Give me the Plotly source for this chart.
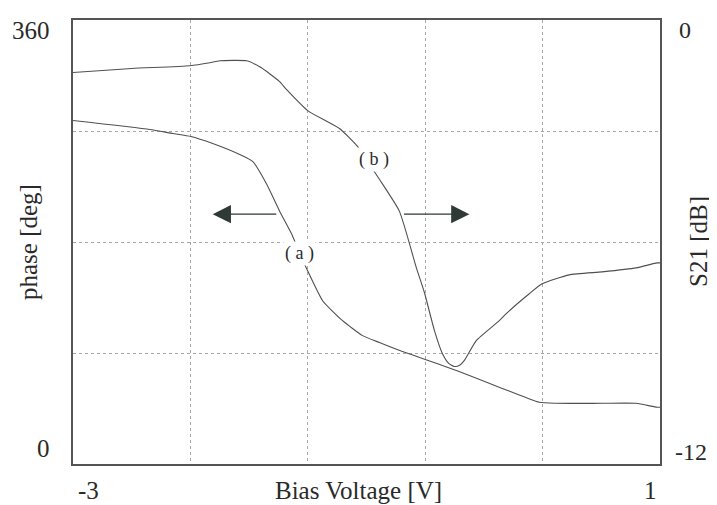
import plotly.graph_objects as go

# ---- data ----
bias_a = [-3.0, -2.476, -2.32, -2.197, -2.048, -1.864, -1.776, -1.68, -1.592, -1.51,
          -1.456, -1.401, -1.299, -1.163, -1.027, -0.912, -0.76, -0.6, -0.45, -0.299,
          -0.075, 0.177, 0.293, 0.605, 0.837, 0.98, 1.0]
phase_a = [278.5, 271.2, 268.0, 265.6, 259.9, 251.0, 245.4, 226.8, 205.0, 186.5,
           171.1, 156.6, 132.4, 116.2, 104.1, 98.5, 91.5, 84.8, 78.5, 71.8,
           61.3, 50.0, 49.2, 49.2, 49.2, 46.0, 46.0]

bias_b = [-3.0, -2.599, -2.204, -2.068, -2.0, -1.816, -1.728, -1.66, -1.592, -1.544,
          -1.401, -1.184, -1.061, -0.993, -0.912, -0.776, -0.66, -0.605, -0.537, -0.483,
          -0.44, -0.401, -0.365, -0.333, -0.252, -0.095, -0.048, 0.109, 0.197, 0.381,
          0.605, 0.837, 0.98, 1.0]
s21_b = [-1.418, -1.310, -1.238, -1.157, -1.103, -1.103, -1.265, -1.453, -1.668, -1.883,
         -2.448, -2.933, -3.417, -3.82, -4.305, -5.166, -6.70, -7.372, -8.395, -9.013,
         -9.28, -9.363, -9.33, -9.20, -8.664, -8.126, -7.937, -7.399, -7.130, -6.888,
         -6.807, -6.700, -6.565, -6.565]

x_grid = [-2.2, -1.4, -0.6, 0.2]
phase_grid = [90, 180, 270]
x_tick_vals = [-3, 1]
x_tick_text = ["-3", "1"]
left_tick_vals = [0, 360]
left_tick_text = ["0", "360"]
right_tick_vals = [-12, 0]
right_tick_text = ["-12", "0"]

FONT = "Liberation Serif, Times New Roman, serif"
LINE = "#505050"
TXT = "#2a2a2a"

fig = go.Figure()
fig.add_trace(go.Scatter(x=bias_a, y=phase_a, mode="lines",
                         line=dict(color=LINE, width=1.1, shape="spline", smoothing=0.5),
                         showlegend=False))
fig.add_trace(go.Scatter(x=bias_b, y=s21_b, mode="lines", yaxis="y2",
                         line=dict(color=LINE, width=1.1, shape="spline", smoothing=0.5),
                         showlegend=False))

# the page body adds an 8px offset, so the figure is sized to fit the window
fig.update_layout(
    width=709, height=497,
    margin=dict(l=65, r=57, t=10, b=41),
    paper_bgcolor="white", plot_bgcolor="white",
    font=dict(family=FONT, color=TXT, size=25),
    xaxis=dict(range=[-3, 1], tickvals=x_grid, showticklabels=False, ticks="",
               showgrid=True, gridcolor="#a8a8a8", griddash="dot", gridwidth=1,
               showline=True, linecolor="#555", linewidth=1.5, mirror=True,
               zeroline=False),
    yaxis=dict(range=[0, 360], tickvals=phase_grid, showticklabels=False, ticks="",
               showgrid=True, gridcolor="#a8a8a8", griddash="dot", gridwidth=1,
               showline=True, linecolor="#555", linewidth=1.5, mirror=True,
               zeroline=False),
    yaxis2=dict(range=[-12, 0], overlaying="y", side="right", showgrid=False,
                showticklabels=False, ticks="", zeroline=False,
                showline=False),
)

ann = []
# left tick labels (inset like the original)
for v, t in zip(left_tick_vals, left_tick_text):
    ann.append(dict(x=0, xref="paper", y=v, yref="y", text=t, showarrow=False,
                    xanchor="right", xshift=-21, yshift=(-10 if v == 360 else 16),
                    font=dict(size=25)))
for v, t in zip(right_tick_vals, right_tick_text):
    ann.append(dict(x=1, xref="paper", y=v, yref="y2", text=t, showarrow=False,
                    xanchor="left", xshift=(17 if v == 0 else 13),
                    yshift=(-10 if v == 0 else 12),
                    font=dict(size=24)))
for v, t in zip(x_tick_vals, x_tick_text):
    ann.append(dict(x=v, xref="x", y=0, yref="paper", text=t, showarrow=False,
                    yanchor="middle", yshift=-26, xshift=(15 if v == -3 else -10),
                    font=dict(size=25)))
# axis titles
ann.append(dict(x=0.5, xref="paper", y=0, yref="paper", text="Bias Voltage [V]",
                showarrow=False, yanchor="middle", yshift=-26, xshift=-8,
                font=dict(size=25)))
ann.append(dict(x=0, xref="paper", y=0.5, yref="paper", text="phase [deg]",
                showarrow=False, textangle=-90, xanchor="center", xshift=-45,
                font=dict(size=25)))
ann.append(dict(x=1, xref="paper", y=0.5, yref="paper", text="S21 [dB]",
                showarrow=False, textangle=-90, xanchor="center", xshift=38,
                font=dict(size=25)))
# curve labels
ann.append(dict(x=-1.456, y=171, xref="x", yref="y", text="( a )", showarrow=False,
                bgcolor="white", font=dict(size=18), borderpad=1))
ann.append(dict(x=-0.946, y=247, xref="x", yref="y", text="( b )", showarrow=False,
                bgcolor="white", font=dict(size=18), borderpad=1))
# arrows
ann.append(dict(x=-2.048, y=202.6, ax=-1.605, ay=202.6, xref="x", yref="y",
                axref="x", ayref="y", text="", showarrow=True, arrowhead=2,
                arrowsize=2.8, arrowwidth=1.3, arrowcolor="#2f3a36"))
ann.append(dict(x=-0.299, y=202.6, ax=-0.755, ay=202.6, xref="x", yref="y",
                axref="x", ayref="y", text="", showarrow=True, arrowhead=2,
                arrowsize=2.8, arrowwidth=1.3, arrowcolor="#2f3a36"))
fig.update_layout(annotations=ann)

fig.write_html("out.html")
